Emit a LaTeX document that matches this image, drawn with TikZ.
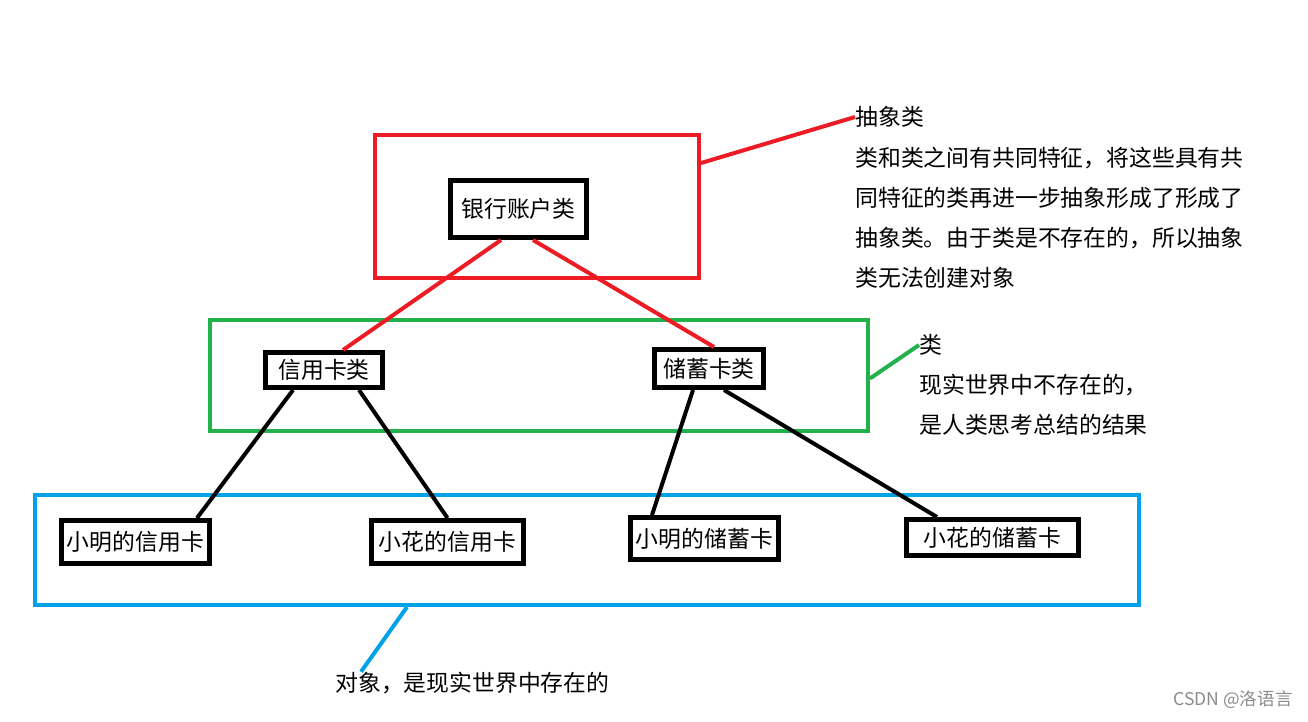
\documentclass[tikz,border=0pt]{standalone}
\usepackage{fontspec}
\setmainfont{Noto Sans CJK SC}
\usetikzlibrary{calc}
\definecolor{paintred}{RGB}{237,28,36}
\definecolor{paintgreen}{RGB}{34,177,76}
\definecolor{paintblue}{RGB}{0,162,232}

\begin{document}
\begin{tikzpicture}[x=0.02cm,y=-0.02cm,
  box/.style={draw=black,line width=0.1cm,inner sep=0pt,font=\fontsize{13}{15}\selectfont},
  frame/.style={draw,line width=0.08cm,inner sep=0pt},
  note/.style={inner sep=0pt,font=\fontsize{13}{22.8}\selectfont,align=left},
  link/.style={line width=0.08cm}]
\useasboundingbox (0,0) rectangle (1308,721);

% frames
\node[frame,draw=paintred,minimum width=6.48cm,minimum height=2.86cm] (absframe) at (537,206.5) {};
\node[frame,draw=paintgreen,minimum width=13.16cm,minimum height=2.22cm] (clsframe) at (539,375.5) {};
\node[frame,draw=paintblue,minimum width=22.08cm,minimum height=2.2cm] (objframe) at (587,550) {};

% classes
\node[box,minimum width=2.72cm,minimum height=1.14cm] (bank) at (518.5,209) {银行账户类};
\node[box,minimum width=2.34cm,minimum height=0.7cm] (credit) at (324,370) {信用卡类};
\node[box,minimum width=2.18cm,minimum height=0.76cm] (debit) at (709,368.5) {储蓄卡类};

% objects
\node[box,minimum width=2.96cm,minimum height=0.86cm] (mingcredit) at (135.5,542) {小明的信用卡};
\node[box,minimum width=3.04cm,minimum height=0.86cm] (huacredit) at (447.5,542) {小花的信用卡};
\node[box,minimum width=2.96cm,minimum height=0.84cm] (mingdebit) at (704.5,538.5) {小明的储蓄卡};
\node[box,minimum width=3.44cm,minimum height=0.72cm] (huadebit) at (992.5,537.5) {小花的储蓄卡};

% notes
\node[note,anchor=west] (abstitle) at (855,117) {抽象类};
\node[note,anchor=north west] (absnote) at (855,147) {类和类之间有共同特征，将这些具有共\\同特征的类再进一步抽象形成了形成了\\抽象类。由于类是不存在的，所以抽象\\类无法创建对象};
\node[note,anchor=west] (clstitle) at (919,345) {类};
\node[note,anchor=north west] (clsnote) at (919,374) {现实世界中不存在的，\\是人类思考总结的结果};
\node[note,anchor=west] (objnote) at (335,683) {对象，是现实世界中存在的};
\node[inner sep=0pt,anchor=east,text=black!45,font=\fontsize{10}{12}\selectfont] (mark) at (1293,700) {CSDN @洛语言};

\draw[link,paintred] ($(bank.south)+(-17.5,0)$) -- ($(credit.north)+(19,0)$);
\draw[link,paintred] ($(bank.south)+(14.5,0)$) -- ($(debit.north)+(5,0)$);
\draw[link] ($(credit.south)+(-31,0)$) -- ($(mingcredit.north)+(61.5,0)$);
\draw[link] ($(credit.south)+(35,0)$) -- (huacredit.north);
\draw[link] ($(debit.south)+(-16,0)$) -- ($(mingdebit.north)+(-52.5,0)$);
\draw[link] ($(debit.south)+(15,0)$) -- ($(huadebit.north)+(-55.5,0)$);

\draw[link,paintred] ($(absframe.north east)+(0,30)$) -- (abstitle.west);
\draw[link,paintgreen] ($(clsframe.east)+(0,3)$) -- (clstitle.west);
\draw[link,paintblue] ($(objframe.south)+(-180,0)$) -- ($(objnote.north west)+(26,0)$);

\end{tikzpicture}
\end{document}
